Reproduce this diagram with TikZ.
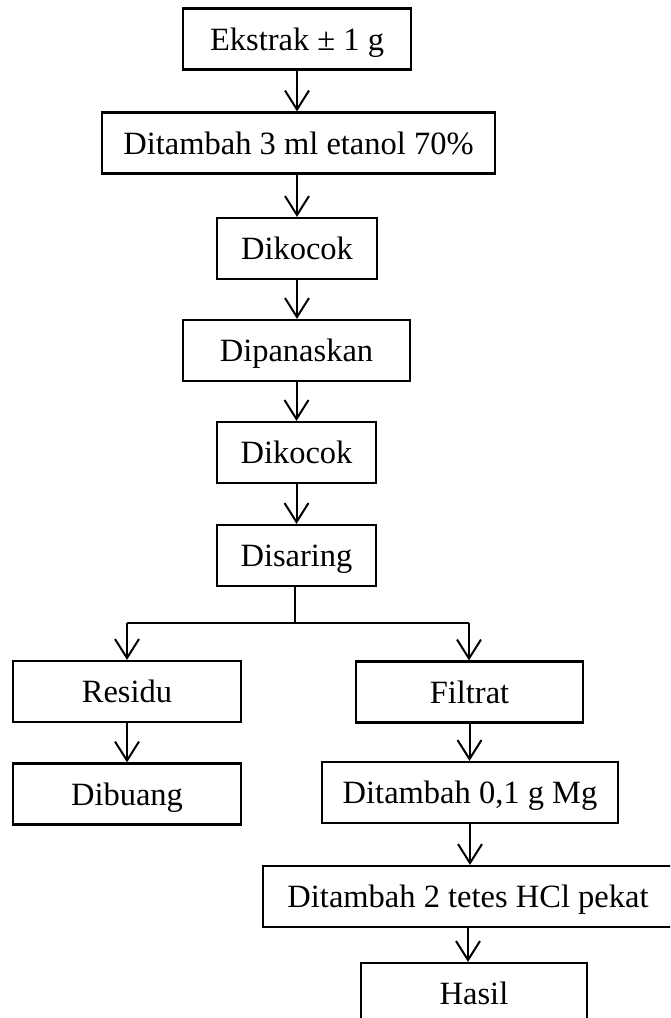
\documentclass[tikz,border=0pt]{standalone}
\usepackage{fontspec}
\setmainfont{Liberation Serif}
\usetikzlibrary{arrows.meta}
\tikzset{
  box/.style={draw=black, line width=2.2pt, rectangle, inner sep=0pt,
    minimum height=61pt, text height=22pt, text depth=0pt,
    font=\fontsize{32.5}{39}\selectfont},
  flow/.style={draw=black, line width=2pt,
    -{Straight Barb[length=19pt,width=24pt,line width=2pt]}},
  thinline/.style={draw=black, line width=1.4pt}
}
\begin{document}
\begin{tikzpicture}[x=1pt,y=-1pt]
\path[use as bounding box, clip] (0,0) rectangle (670,1018);
\node[box, minimum width=228pt] (b1) at (297,39) {Ekstrak ± 1 g};
\node[box, minimum width=393pt] (b2) at (298.5,143) {Ditambah 3 ml etanol 70\%};
\node[box, minimum width=160pt] (b3) at (297,248.5) {Dikocok};
\node[box, minimum width=227pt] (b4) at (296.5,350.5) {Dipanaskan};
\node[box, minimum width=159pt] (b5) at (296.5,452.5) {Dikocok};
\node[box, minimum width=159pt] (b6) at (296.5,555.5) {Disaring};
\node[box, minimum width=228pt] (res) at (127,691.5) {Residu};
\node[box, minimum width=227pt] (fil) at (469.5,692) {Filtrat};
\node[box, minimum width=228pt] (dib) at (127,794) {Dibuang};
\node[box, minimum width=296pt] (mg) at (470,792.5) {Ditambah 0,1 g Mg};
\node[box, minimum width=410pt] (hcl) at (468,896.5) {Ditambah 2 tetes HCl pekat};
\node[box, minimum width=226pt] (has) at (474,993.5) {Hasil};
\coordinate (j) at (295,623);
\coordinate (jl) at (127,623);
\coordinate (jr) at (469,623);
\draw[flow] (b1.south) -- (b1.south |- b2.north);
\draw[flow] (b2.south -| b1.south) -- (b1.south |- b3.north);
\draw[flow] (b3.south) -- (b3.south |- b4.north);
\draw[flow] (b4.south) -- (b4.south |- b5.north);
\draw[flow] (b5.south) -- (b5.south |- b6.north);
\draw[thinline] (b6.south -| j) -- (j);
\draw[thinline] (jl) -- (jr);
\draw[flow] (jl) -- (jl |- res.north);
\draw[flow] (jr) -- (jr |- fil.north);
\draw[flow] (res.south) -- (res.south |- dib.north);
\draw[flow] (fil.south) -- (fil.south |- mg.north);
\draw[flow] (mg.south) -- (mg.south |- hcl.north);
\draw[flow] (hcl.south) -- (hcl.south |- has.north);
\end{tikzpicture}
\end{document}
